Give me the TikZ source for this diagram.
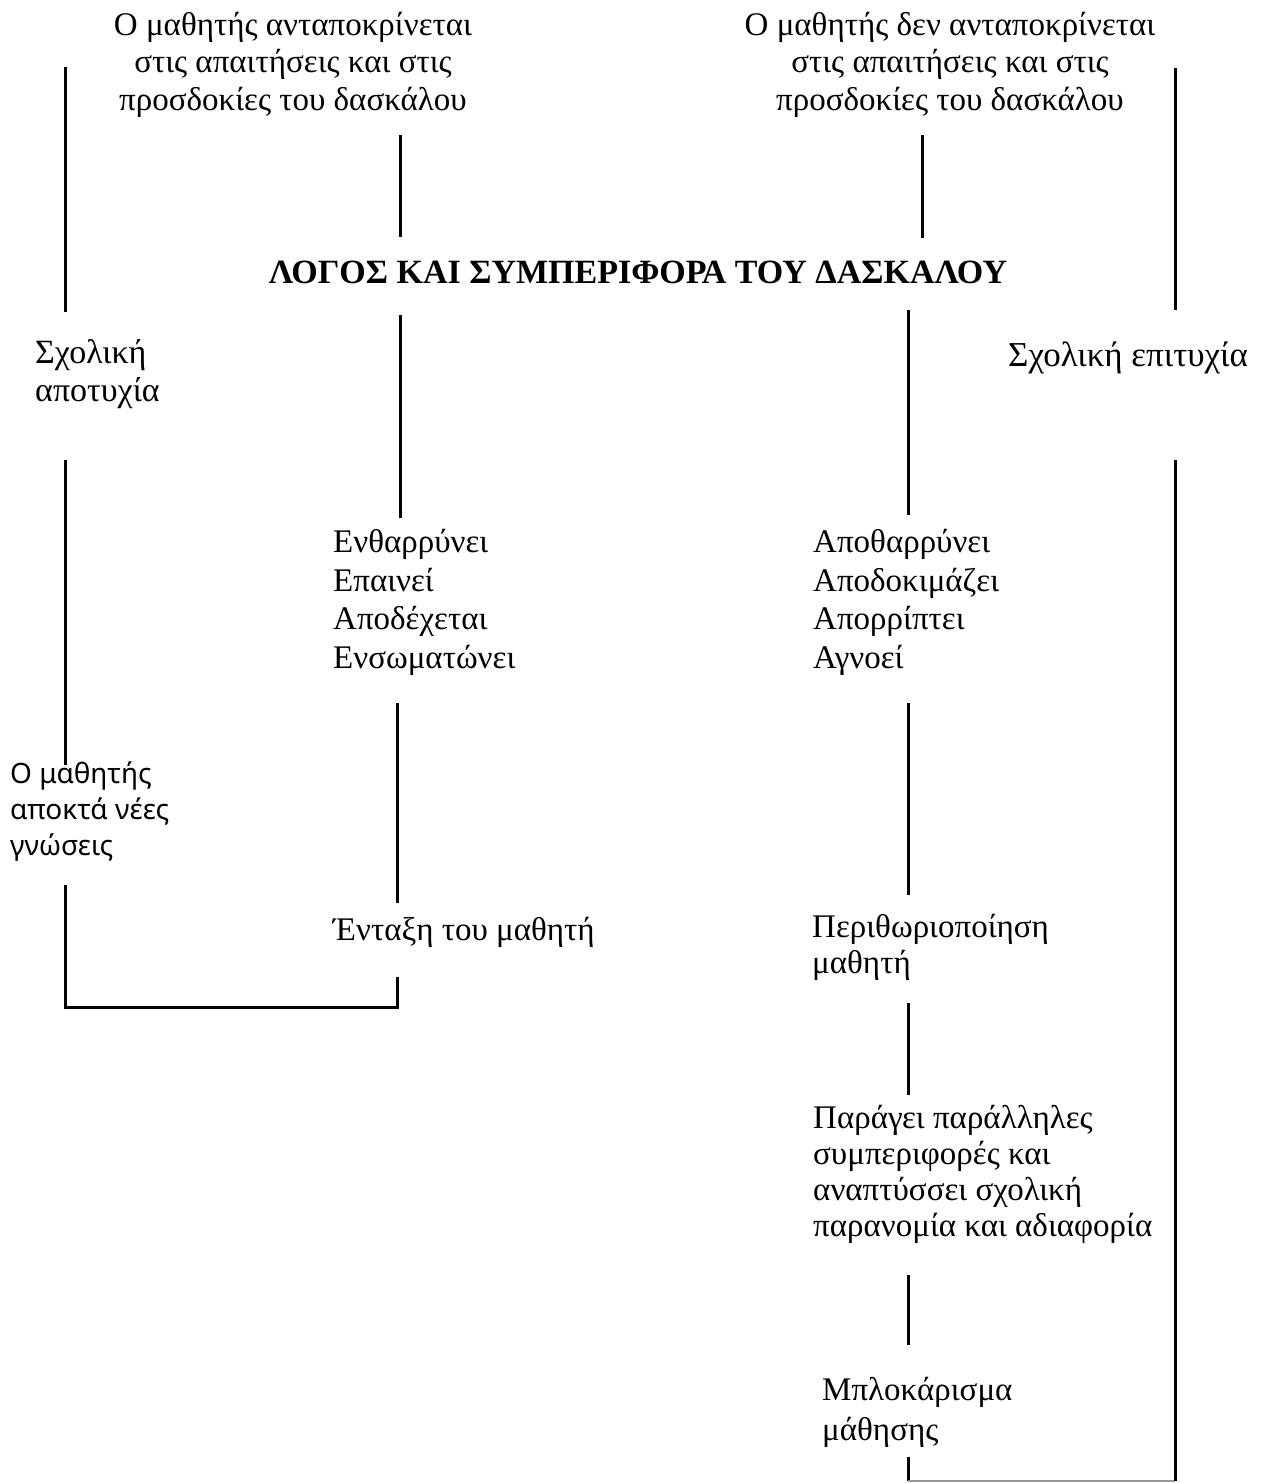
\documentclass[tikz,border=0pt]{standalone}
\usepackage{fontspec}
\setmainfont{Liberation Serif}
\newfontfamily\sansgr{Noto Sans}
\begin{document}
\begin{tikzpicture}[x=1pt,y=-1pt,
  txt/.style={inner sep=0pt, font=\fontsize{33}{38.5}\selectfont},
  lbl/.style={txt, align=left, anchor=base west},
  ctr/.style={txt, align=center, anchor=base},
  link/.style={line width=3pt}]
\useasboundingbox[fill=white] (0,0) rectangle (1269,1483);
% text blocks (anchor = baseline of the last line)
\node[ctr, font=\fontsize{33}{37.5}\selectfont] (topL) at (293,110) {Ο μαθητής ανταποκρίνεται\\στις απαιτήσεις και στις\\προσδοκίες του δασκάλου};
\node[ctr, font=\fontsize{33}{37.5}\selectfont] (topR) at (950,110) {Ο μαθητής δεν ανταποκρίνεται\\στις απαιτήσεις και στις\\προσδοκίες του δασκάλου};
\node[inner sep=0pt, anchor=base, font=\fontsize{34}{36}\selectfont\bfseries] (head) at (638,283) {ΛΟΓΟΣ ΚΑΙ ΣΥΜΠΕΡΙΦΟΡΑ ΤΟΥ ΔΑΣΚΑΛΟΥ};
\node[lbl, font=\fontsize{34}{38}\selectfont] (fail) at (35,401) {Σχολική\\αποτυχία};
\node[lbl, font=\fontsize{35}{38}\selectfont] (succ) at (1008,366) {Σχολική επιτυχία};
\node[lbl] (pos) at (333,668) {Ενθαρρύνει\\Επαινεί\\Αποδέχεται\\Ενσωματώνει};
\node[lbl] (neg) at (813,668) {Αποθαρρύνει\\Αποδοκιμάζει\\Απορρίπτει\\Αγνοεί};
\node[lbl, font=\sansgr\fontsize{28}{36}\selectfont] (know) at (10,855) {Ο μαθητής\\αποκτά νέες\\γνώσεις};
\node[lbl] (incl) at (333,940) {Ένταξη του μαθητή};
\node[lbl, font=\fontsize{33}{36}\selectfont] (marg) at (812,973) {Περιθωριοποίηση\\μαθητή};
\node[lbl, font=\fontsize{33}{36}\selectfont] (para) at (813,1236) {Παράγει παράλληλες\\συμπεριφορές και\\αναπτύσσει σχολική\\παρανομία και αδιαφορία};
\node[lbl, font=\fontsize{33}{40}\selectfont] (block) at (822,1440) {Μπλοκάρισμα\\μάθησης};
% connector end points
\coordinate (l1a) at (65,67);   \coordinate (l1b) at (65,312);
\coordinate (l2a) at (65,460);  \coordinate (l2b) at (65,765);
\coordinate (l3a) at (65,885);  \coordinate (l3b) at (65,1007);
\coordinate (l3c) at (397,1007); \coordinate (l3d) at (397,977);
\coordinate (c1a) at (400,135); \coordinate (c1b) at (400,237);
\coordinate (c2a) at (400,315); \coordinate (c2b) at (400,518);
\coordinate (c3a) at (397,703); \coordinate (c3b) at (397,903);
\coordinate (r1a) at (922,135); \coordinate (r1b) at (922,238);
\coordinate (r2a) at (908,310); \coordinate (r2b) at (908,515);
\coordinate (r3a) at (908,703); \coordinate (r3b) at (908,895);
\coordinate (r4a) at (908,1003); \coordinate (r4b) at (908,1095);
\coordinate (r5a) at (908,1275); \coordinate (r5b) at (908,1345);
\coordinate (r6a) at (908,1457); \coordinate (r6b) at (908,1481);
\coordinate (e1a) at (1175,68);  \coordinate (e1b) at (1175,310);
\coordinate (e2a) at (1175,460); \coordinate (e2b) at (1175,1481);
% connectors
\draw[link] (l1a) -- (l1b);
\draw[link] (l2a) -- (l2b);
\draw[link] (l3a) -- (l3b) -- (l3c) -- (l3d);
\draw[link] (c1a) -- (c1b);
\draw[link] (c2a) -- (c2b);
\draw[link] (c3a) -- (c3b);
\draw[link] (r1a) -- (r1b);
\draw[link] (r2a) -- (r2b);
\draw[link] (r3a) -- (r3b);
\draw[link] (r4a) -- (r4b);
\draw[link] (r5a) -- (r5b);
\draw[link] (r6a) -- (r6b);
\draw[line width=1.5pt, black!40] (r6b) -- (e2b);
\draw[link] (e1a) -- (e1b);
\draw[link] (e2a) -- (e2b);
\end{tikzpicture}
\end{document}
